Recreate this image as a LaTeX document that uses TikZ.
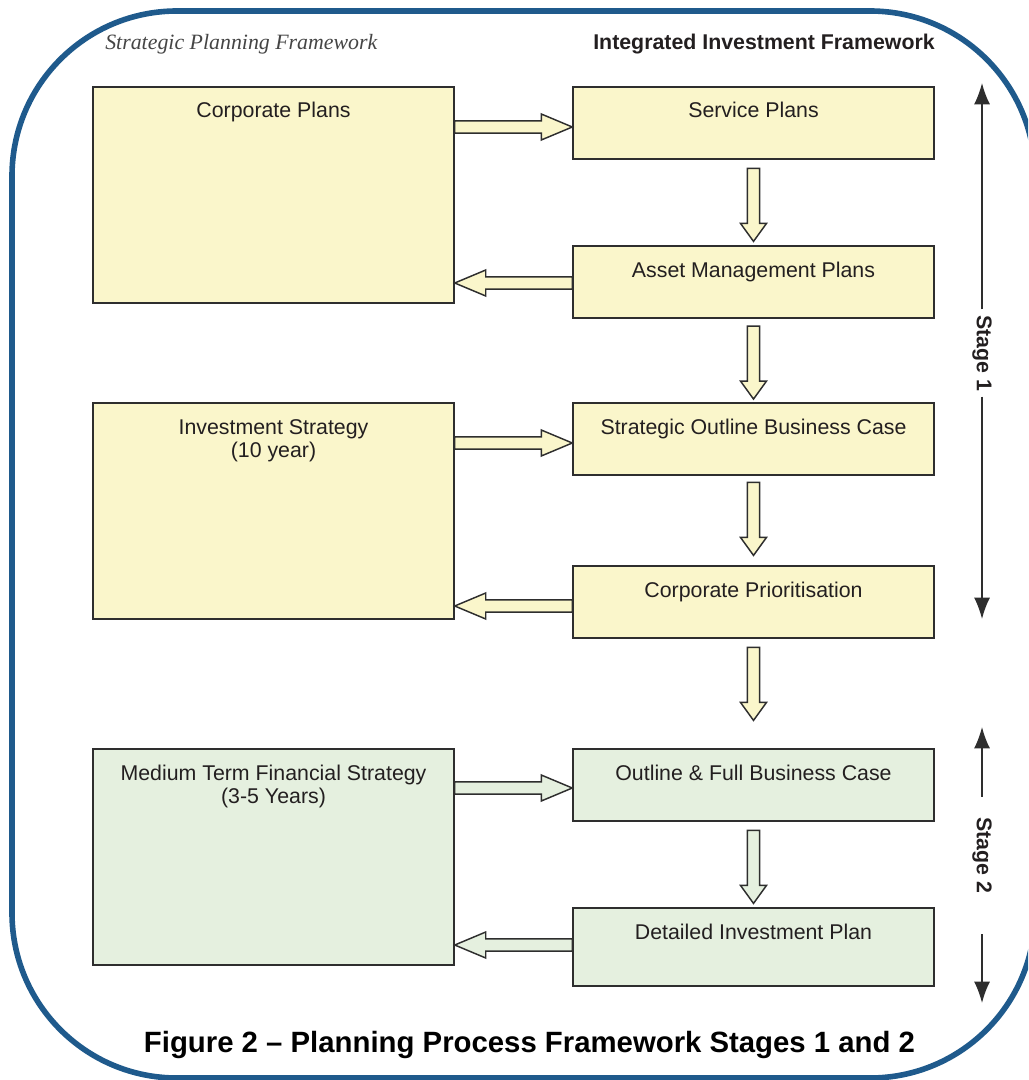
\documentclass[tikz,border=0pt]{standalone}
\usepackage{fontspec}
\setmainfont{Liberation Sans}
\newfontfamily\capserif{Liberation Serif}
\usetikzlibrary{calc,arrows.meta}
\definecolor{yel}{HTML}{FAF6CB}
\definecolor{grn}{HTML}{E5F0DF}
\definecolor{edgec}{HTML}{2E2E2E}
\definecolor{txt}{HTML}{231F20}
\definecolor{framec}{HTML}{1F5A8C}
\definecolor{headgray}{HTML}{454545}
\newcommand\arrowhl{23.25pt}
\tikzset{
  headlen/.code={\renewcommand\arrowhl{#1}},
  box/.style={draw=edgec, line width=1.1pt, fill=#1, inner xsep=2pt, inner ysep=0pt,
    align=center, text=txt, font=\fontsize{16}{17.6}\selectfont, minimum width=270.75pt},
  smallbox/.style={box=#1, text height=23.25pt, text depth=30.75pt, minimum height=54pt},
  tallbox/.style={box=#1, text height=23.25pt, text depth=35.25pt, minimum height=58.5pt},
  bigbox/.style={box=#1, text height=40.85pt, text depth=121.15pt, minimum height=162pt},
  bigboxone/.style={box=#1, text height=23.25pt, text depth=138.75pt, minimum height=162pt},
  blockarrow/.style={draw=edgec, line width=1.1pt, line join=miter, fill=#1,
    to path={-- ($(\tikztostart)!4.6pt!90:(\tikztotarget)$)
      -- ($(\tikztotarget)!\arrowhl!(\tikztostart)!4.6pt!90:(\tikztotarget)$)
      -- ($(\tikztotarget)!\arrowhl!(\tikztostart)!9.75pt!90:(\tikztotarget)$)
      -- (\tikztotarget)
      -- ($(\tikztotarget)!\arrowhl!(\tikztostart)!9.75pt!-90:(\tikztotarget)$)
      -- ($(\tikztotarget)!\arrowhl!(\tikztostart)!4.6pt!-90:(\tikztotarget)$)
      -- ($(\tikztostart)!4.6pt!-90:(\tikztotarget)$)
      -- cycle}},
  harrow/.style={blockarrow=#1, headlen=23.25pt},
  varrow/.style={blockarrow=#1, headlen=13.5pt},
  stagelabel/.style={rotate=-90, font=\bfseries\fontsize{16}{18}\selectfont, text=txt,
    inner xsep=4pt, inner ysep=0pt},
  stagearrow/.style={draw=edgec, line width=1.1pt, -{Latex[length=16pt,width=12pt]}},
}
\begin{document}
\begin{tikzpicture}[x=0.75pt, y=-0.75pt]
\useasboundingbox (0,0) rectangle (1028,1080);
\clip (0,0) rectangle (1028,1080);

% outer frame
\draw[framec, line width=4.2pt, rounded corners=123.75pt] (12,11) rectangle (1035,1078);

% headers
\node[anchor=base west, inner sep=0pt, text=headgray,
  font=\capserif\itshape\fontsize{16.4}{18}\selectfont] (hleft) at (105,50) {Strategic Planning Framework};
\node[anchor=base east, inner sep=0pt, text=txt,
  font=\bfseries\fontsize{16}{18}\selectfont] (hright) at (935,50) {Integrated Investment Framework};

% left column
\node[bigboxone=yel] (cp) at (273.5,195) {Corporate Plans};
\node[bigbox=yel] (is) at (273.5,511) {Investment Strategy\\(10 year)};
\node[bigbox=grn] (mtfs) at (273.5,857) {Medium Term Financial Strategy\\(3-5 Years)};

% right column
\node[smallbox=yel] (sp) at (753.5,123) {Service Plans};
\node[smallbox=yel] (amp) at (753.5,282) {Asset Management Plans};
\node[smallbox=yel] (sobc) at (753.5,439) {Strategic Outline Business Case};
\node[smallbox=yel] (cpr) at (753.5,602) {Corporate Prioritisation};
\node[smallbox=grn] (ofbc) at (753.5,785) {Outline \& Full Business Case};
\node[tallbox=grn] (dip) at (753.5,947) {Detailed Investment Plan};

% horizontal connector ends
\coordinate (h1t) at ([yshift=-3pt]sp.west);
\coordinate (h1s) at (cp.east |- h1t);
\coordinate (h2s) at ([yshift=-0.75pt]amp.west);
\coordinate (h2t) at (cp.east |- h2s);
\coordinate (h3t) at ([yshift=-3pt]sobc.west);
\coordinate (h3s) at (is.east |- h3t);
\coordinate (h4s) at ([yshift=-3pt]cpr.west);
\coordinate (h4t) at (is.east |- h4s);
\coordinate (h5t) at ([yshift=-2.25pt]ofbc.west);
\coordinate (h5s) at (mtfs.east |- h5t);
\coordinate (h6s) at ([yshift=1.5pt]dip.west);
\coordinate (h6t) at (mtfs.east |- h6s);

% vertical connector ends
\coordinate (v1s) at ([yshift=-6.5pt]sp.south);
\coordinate (v1t) at ([yshift=-61.25pt]sp.south);
\coordinate (v2s) at ([yshift=-5.5pt]amp.south);
\coordinate (v2t) at ([yshift=-60.25pt]amp.south);
\coordinate (v3s) at ([yshift=-5pt]sobc.south);
\coordinate (v3t) at ([yshift=-59.75pt]sobc.south);
\coordinate (v4s) at ([yshift=-6.5pt]cpr.south);
\coordinate (v4t) at ([yshift=-61.25pt]cpr.south);
\coordinate (v5s) at ([yshift=-6.5pt]ofbc.south);
\coordinate (v5t) at ([yshift=-61.25pt]ofbc.south);

\draw[harrow=yel] (h1s) to (h1t);
\draw[harrow=yel] (h2s) to (h2t);
\draw[harrow=yel] (h3s) to (h3t);
\draw[harrow=yel] (h4s) to (h4t);
\draw[harrow=grn] (h5s) to (h5t);
\draw[harrow=grn] (h6s) to (h6t);

\draw[varrow=yel] (v1s) to (v1t);
\draw[varrow=yel] (v2s) to (v2t);
\draw[varrow=yel] (v3s) to (v3t);
\draw[varrow=yel] (v4s) to (v4t);
\draw[varrow=grn] (v5s) to (v5t);

% stages
\node[stagelabel] (st1) at (982,353) {Stage 1};
\coordinate (s1top) at (982,83);
\coordinate (s1bot) at (982,619);
\draw[stagearrow] (st1.west) -- (s1top);
\draw[stagearrow] (st1.east) -- (s1bot);

\node[stagelabel] (st2) at (982,855) {Stage 2};
\coordinate (s2top) at (982,727);
\coordinate (s2bot) at (982,1003);
\draw[stagearrow] ([yshift=11pt]st2.west) -- (s2top);
\draw[stagearrow] ([yshift=-26.8pt]st2.east) -- (s2bot);

% caption
\node[anchor=base, inner sep=0pt, text=black,
  font=\bfseries\fontsize{22}{24}\selectfont] (title) at (529.5,1052)
  {Figure 2 – Planning Process Framework Stages 1 and 2};
\end{tikzpicture}
\end{document}
